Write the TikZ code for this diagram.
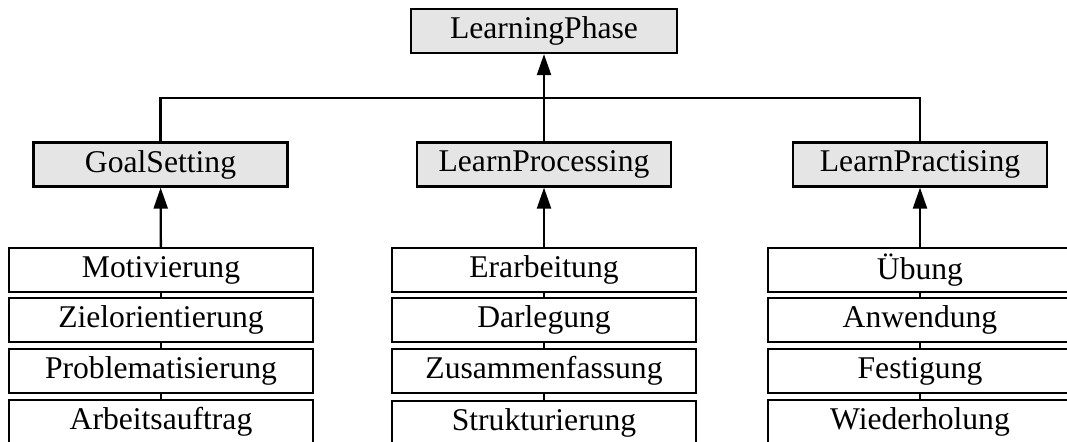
\documentclass[tikz,border=0pt]{standalone}
\usepackage{fontspec}
\setmainfont{Liberation Serif}
\usetikzlibrary{arrows, arrows.meta}

\tikzset{
    phase/.style={draw, fill=gray!20, line width=1.3pt, minimum width=5.08cm, minimum height=0.88cm, inner sep=0pt, font=\fontsize{18}{21}\selectfont},
    activity/.style={draw, fill=white, line width=1.3pt, minimum width=6.08cm, minimum height=0.88cm, inner sep=0pt, font=\fontsize{18}{21}\selectfont},
    link/.style={line width=1.3pt},
    inherit/.style={line width=1.3pt, -{Triangle[length=0.42cm, width=0.28cm]}}
}

\begin{document}
\begin{tikzpicture}[x=0.02cm, y=-0.02cm]
\useasboundingbox (0,0) rectangle (1067,442);

\node[phase, minimum width=5.32cm] (LearningPhase) at (544,31) {LearningPhase};
\node[phase] (GoalSetting) at (160.5,164.5) {GoalSetting};
\node[phase] (LearnProcessing) at (544,164.5) {LearnProcessing};
\node[phase] (LearnPractising) at (920,164.5) {LearnPractising};

\node[activity] (Motivierung) at (161,270) {Motivierung};
\node[activity] (Zielorientierung) at (161,320) {Zielorientierung};
\node[activity] (Problematisierung) at (161,371) {Problematisierung};
\node[activity] (Arbeitsauftrag) at (161,422) {Arbeitsauftrag};

\node[activity] (Erarbeitung) at (544,270) {Erarbeitung};
\node[activity] (Darlegung) at (544,320) {Darlegung};
\node[activity] (Zusammenfassung) at (544,371) {Zusammenfassung};
\node[activity] (Strukturierung) at (544,423) {Strukturierung};

\node[activity] (Uebung) at (920,270) {Übung};
\node[activity] (Anwendung) at (920,320) {Anwendung};
\node[activity] (Festigung) at (920,371) {Festigung};
\node[activity] (Wiederholung) at (920,422) {Wiederholung};

\coordinate (fork) at (544,98);
\draw [link] (GoalSetting.north) |- (fork) -| (LearnPractising.north);
\draw [inherit] (LearnProcessing) -- (LearningPhase);

\draw [inherit] (Motivierung) -- (GoalSetting);
\draw [inherit] (Erarbeitung) -- (LearnProcessing);
\draw [inherit] (Uebung) -- (LearnPractising);

\draw [link] (Motivierung) -- (Zielorientierung);
\draw [link] (Zielorientierung) -- (Problematisierung);
\draw [link] (Problematisierung) -- (Arbeitsauftrag);
\draw [link] (Erarbeitung) -- (Darlegung);
\draw [link] (Darlegung) -- (Zusammenfassung);
\draw [link] (Zusammenfassung) -- (Strukturierung);
\draw [link] (Uebung) -- (Anwendung);
\draw [link] (Anwendung) -- (Festigung);
\draw [link] (Festigung) -- (Wiederholung);

\end{tikzpicture}
\end{document}
